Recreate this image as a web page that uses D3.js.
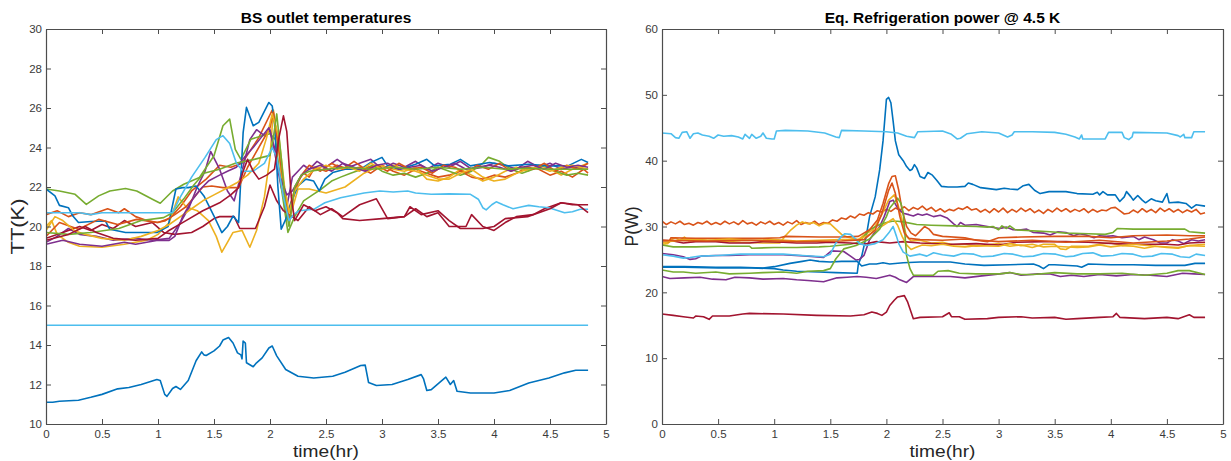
<!DOCTYPE html>
<html><head><meta charset="utf-8">
<script src="https://cdn.jsdelivr.net/npm/d3@7"></script>
<style>
body{margin:0;background:#fff;}
svg{display:block;font-family:"Liberation Sans",Arial,sans-serif;}
</style></head>
<body><svg id="c" width="1231" height="461"></svg>
<script>
// ---------- DATA (time in hr, value) ----------
const xTicks = [0,0.5,1,1.5,2,2.5,3,3.5,4,4.5,5];
const tempTicks = [10,12,14,16,18,20,22,24,26,28,30];
const powerTicks = [0,10,20,30,40,50,60];
const matlabColors = ["#0072BD","#D95319","#EDB120","#7E2F8E","#77AC30","#4DBEEE","#A2142F"];

// Left chart: BS outlet temperatures (K)
const tBlueLow = [[0,11.1],[0.06,11.1],[0.12,11.15],[0.29,11.2],[0.4,11.35],[0.5,11.5],[0.64,11.78],[0.74,11.85],[0.85,12.0],[0.99,12.25],[1.02,12.2],[1.06,11.5],[1.08,11.4],[1.13,11.8],[1.16,11.9],[1.2,11.75],[1.27,12.2],[1.34,13.2],[1.39,13.65],[1.41,13.5],[1.43,13.47],[1.5,13.7],[1.55,13.95],[1.58,14.25],[1.63,14.38],[1.67,14.1],[1.71,13.6],[1.74,13.5],[1.75,13.3],[1.76,14.2],[1.78,14.1],[1.79,13.1],[1.85,12.9],[1.88,13.1],[1.93,13.35],[1.99,13.85],[2.02,13.95],[2.06,13.45],[2.14,12.76],[2.25,12.42],[2.39,12.33],[2.56,12.42],[2.67,12.62],[2.81,12.96],[2.85,12.98],[2.88,12.1],[2.95,11.95],[3.09,12.0],[3.23,12.25],[3.35,12.5],[3.37,12.3],[3.4,11.7],[3.44,11.74],[3.51,12.08],[3.57,12.37],[3.61,12.0],[3.64,12.2],[3.67,11.66],[3.79,11.57],[4.0,11.57],[4.14,11.7],[4.31,12.08],[4.49,12.33],[4.63,12.59],[4.73,12.72],[4.84,12.72]];
const tLightFlat = [[0,15],[4.84,15]];
const tLightMid = [[0,20.7],[0.3,20.7],[0.4,20.6],[0.5,20.7],[1.13,20.7],[1.2,21.5],[1.3,22.5],[1.42,23.5],[1.52,24.4],[1.58,24.6],[1.64,24.2],[1.7,23.2],[1.76,22.8],[1.85,22.8],[1.95,23.2],[2.02,24.0],[2.06,23.5],[2.12,21.5],[2.17,20.3],[2.21,20.6],[2.26,20.8],[2.39,20.87],[2.49,21.2],[2.63,21.46],[2.84,21.7],[2.98,21.8],[3.1,21.75],[3.23,21.8],[3.3,21.7],[3.44,21.63],[3.6,21.65],[3.79,21.63],[3.86,21.38],[3.9,20.95],[3.93,20.84],[3.98,21.1],[4.02,21.25],[4.08,21.1],[4.17,20.9],[4.25,21.0],[4.31,21.07],[4.4,21.0],[4.49,20.95],[4.63,20.7],[4.7,20.75],[4.77,20.87],[4.84,20.87]];
const tBlueHigh = [[0,21.9],[0.08,21.55],[0.12,21.07],[0.2,20.95],[0.24,20.53],[0.29,20.2],[0.4,20.25],[0.53,20.28],[0.57,19.86],[0.71,19.7],[0.99,19.7],[1.09,20.0],[1.16,21.9],[1.22,21.97],[1.27,21.97],[1.34,22.05],[1.41,21.55],[1.5,20.53],[1.57,19.69],[1.62,20.0],[1.67,20.53],[1.72,20.2],[1.76,24.75],[1.79,26.03],[1.85,25.1],[1.9,25.27],[1.99,26.28],[2.02,26.1],[2.04,25.3],[2.07,22.05],[2.1,19.86],[2.14,20.36],[2.2,21.38],[2.25,22.05],[2.32,22.4],[2.39,22.3],[2.44,21.8],[2.49,22.4],[2.56,22.73],[2.67,22.9],[2.81,22.9],[2.9,23.24],[3.0,23.5],[3.05,23.07],[3.16,22.9],[3.3,23.15],[3.4,23.4],[3.47,23.07],[3.61,23.15],[3.7,23.4],[3.79,23.07],[3.96,23.24],[4.13,23.07],[4.31,23.15],[4.48,23.07],[4.66,23.07],[4.78,23.4],[4.84,23.24]];
const tOrange1 = [[0,20.6],[0.1,20.8],[0.2,20.5],[0.3,20.7],[0.4,20.6],[0.55,20.9],[0.65,20.7],[0.7,20.9],[0.8,20.5],[0.9,20.3],[1.0,20.2],[1.1,20.4],[1.2,21.0],[1.3,21.8],[1.43,22.4],[1.55,23.1],[1.65,23.0],[1.75,23.2],[1.9,24.5],[2.02,25.9],[2.08,24.0],[2.13,21.0],[2.15,20.5],[2.2,21.5],[2.25,22.3],[2.3,22.7],[2.35,22.5],[2.4,23.0],[2.5,22.8],[2.6,23.1],[2.7,22.9],[2.8,23.0],[2.9,22.7],[3.0,23.1],[3.1,22.8],[3.2,22.6],[3.3,22.9],[3.4,22.7],[3.5,22.5],[3.6,22.6],[3.7,22.8],[3.8,22.5],[3.9,22.4],[4.0,22.6],[4.1,22.5],[4.2,22.7],[4.3,23.0],[4.4,22.9],[4.5,22.6],[4.6,22.8],[4.7,22.5],[4.8,22.9],[4.84,22.7]];
const tOrange2 = [[0,19.5],[0.12,20.2],[0.29,19.86],[0.47,20.36],[0.64,20.1],[0.81,20.36],[0.99,20.2],[1.06,20.28],[1.15,20.6],[1.25,21.0],[1.4,22.0],[1.48,22.05],[1.58,21.97],[1.72,21.97],[1.8,23.0],[2.0,25.0],[2.03,25.8],[2.1,23.0],[2.17,20.3],[2.22,21.8],[2.28,22.6],[2.35,23.1],[2.45,22.8],[2.55,23.2],[2.65,22.9],[2.75,23.3],[2.85,22.9],[2.95,23.1],[3.05,22.8],[3.15,23.2],[3.25,22.9],[3.35,23.0],[3.45,22.7],[3.55,23.1],[3.65,23.0],[3.75,22.7],[3.85,23.1],[3.95,22.9],[4.05,23.2],[4.15,22.8],[4.25,23.0],[4.35,22.9],[4.45,23.2],[4.55,22.8],[4.65,23.1],[4.75,22.9],[4.84,23.2]];
const tYellow1 = [[0,20.0],[0.05,20.3],[0.1,19.6],[0.2,19.2],[0.3,19.0],[0.5,18.95],[0.7,19.1],[0.9,19.3],[1.0,19.6],[1.1,20.2],[1.18,21.5],[1.25,21.0],[1.35,20.8],[1.45,20.3],[1.52,19.5],[1.57,18.7],[1.62,19.2],[1.67,19.7],[1.75,19.8],[1.82,18.95],[1.88,19.8],[1.95,21.5],[2.0,23.5],[2.03,25.9],[2.08,24.0],[2.12,21.5],[2.17,20.3],[2.25,21.9],[2.35,21.9],[2.5,21.7],[2.67,22.0],[2.84,22.7],[2.98,23.1],[3.1,22.9],[3.2,22.8],[3.3,23.0],[3.4,22.4],[3.5,22.3],[3.6,22.5],[3.7,22.9],[3.8,22.6],[3.9,22.3],[4.0,22.5],[4.1,22.8],[4.2,23.0],[4.3,22.8],[4.4,23.1],[4.5,22.9],[4.6,22.6],[4.7,22.9],[4.84,23.2]];
const tYellow2 = [[0,19.8],[0.08,20.5],[0.15,20.3],[0.25,19.8],[0.35,19.6],[0.5,19.4],[0.7,19.3],[0.85,19.5],[1.0,19.8],[1.1,20.1],[1.2,20.5],[1.3,20.9],[1.4,21.3],[1.5,21.6],[1.6,21.9],[1.7,22.2],[1.8,22.6],[1.9,23.2],[1.97,24.5],[2.02,25.7],[2.08,24.5],[2.13,22.0],[2.17,20.7],[2.22,21.8],[2.3,22.4],[2.4,22.9],[2.5,23.1],[2.6,22.9],[2.7,23.0],[2.8,22.8],[2.9,23.2],[3.0,22.9],[3.1,23.1],[3.2,22.9],[3.3,22.8],[3.4,22.6],[3.5,22.4],[3.6,22.4],[3.7,22.7],[3.8,22.9],[3.9,22.5],[4.0,22.3],[4.1,22.4],[4.2,22.7],[4.3,22.9],[4.4,23.0],[4.5,22.8],[4.6,23.0],[4.7,23.1],[4.84,22.9]];
const tPurple1 = [[0,19.2],[0.1,19.5],[0.2,19.9],[0.3,19.6],[0.45,19.5],[0.6,19.3],[0.8,19.4],[0.95,19.3],[1.1,19.4],[1.2,20.2],[1.28,21.0],[1.35,22.0],[1.42,22.8],[1.47,23.8],[1.55,22.9],[1.62,21.8],[1.68,21.3],[1.75,22.8],[1.82,24.4],[1.88,24.9],[1.95,24.6],[2.0,24.9],[2.05,23.5],[2.1,22.0],[2.15,21.0],[2.2,22.5],[2.25,22.8],[2.3,23.1],[2.35,22.9],[2.42,23.3],[2.5,23.0],[2.6,23.4],[2.7,23.0],[2.8,23.2],[2.9,23.4],[3.0,22.9],[3.1,23.2],[3.2,23.0],[3.3,23.3],[3.4,22.9],[3.5,23.2],[3.6,23.0],[3.7,23.3],[3.8,22.9],[3.9,23.0],[4.0,23.2],[4.1,23.1],[4.2,22.9],[4.3,23.3],[4.4,23.0],[4.5,23.2],[4.6,22.9],[4.7,23.0],[4.84,22.9]];
const tPurple2 = [[0,19.1],[0.15,19.3],[0.3,19.1],[0.5,19.0],[0.7,19.2],[0.8,19.1],[1.0,19.3],[1.1,19.3],[1.15,19.5],[1.22,20.5],[1.3,21.3],[1.38,21.9],[1.45,22.3],[1.55,22.6],[1.62,22.8],[1.7,23.0],[1.77,23.5],[1.85,24.0],[1.92,24.5],[1.99,25.0],[2.04,24.0],[2.09,22.5],[2.15,21.6],[2.2,21.8],[2.28,22.6],[2.35,22.9],[2.45,23.1],[2.55,22.8],[2.65,23.2],[2.75,23.0],[2.85,22.8],[2.95,23.1],[3.05,23.2],[3.15,22.9],[3.25,23.0],[3.35,23.1],[3.45,22.8],[3.55,23.0],[3.65,23.2],[3.75,22.9],[3.85,23.0],[3.95,23.1],[4.05,23.0],[4.15,22.8],[4.25,23.0],[4.35,23.1],[4.45,22.9],[4.55,23.2],[4.65,23.0],[4.75,23.1],[4.84,23.0]];
const tGreen1 = [[0,21.9],[0.12,21.8],[0.26,21.63],[0.36,21.12],[0.47,21.55],[0.57,21.8],[0.71,21.92],[0.81,21.8],[0.95,21.38],[1.02,21.18],[1.13,21.8],[1.23,22.14],[1.37,22.48],[1.5,23.58],[1.58,25.1],[1.64,25.44],[1.69,23.91],[1.74,23.4],[1.83,24.42],[1.93,24.6],[2.0,24.7],[2.05,24.4],[2.1,22.0],[2.16,19.7],[2.22,20.5],[2.3,21.3],[2.38,21.6],[2.46,21.9],[2.55,22.3],[2.63,22.5],[2.72,22.7],[2.82,22.9],[2.92,23.1],[3.0,22.8],[3.1,22.6],[3.2,22.7],[3.3,22.5],[3.4,22.7],[3.5,23.0],[3.6,22.8],[3.7,22.6],[3.8,22.8],[3.9,23.2],[3.95,23.5],[4.05,23.3],[4.15,22.9],[4.25,22.7],[4.35,22.9],[4.45,23.1],[4.55,22.8],[4.65,22.6],[4.75,22.7],[4.84,22.6]];
const tGreen2 = [[0,19.7],[0.2,19.6],[0.4,19.7],[0.65,19.9],[0.85,20.3],[1.05,20.45],[1.13,20.7],[1.23,21.4],[1.32,22.1],[1.41,22.7],[1.55,22.9],[1.69,23.2],[1.86,23.4],[2.0,23.6],[2.03,24.5],[2.06,25.7],[2.1,23.5],[2.14,21.0],[2.17,20.0],[2.22,22.0],[2.28,22.6],[2.35,22.8],[2.5,22.9],[2.7,23.0],[2.9,22.9],[3.1,23.0],[3.3,22.9],[3.5,23.0],[3.7,22.9],[3.9,23.0],[4.1,22.9],[4.3,22.95],[4.5,22.9],[4.7,22.9],[4.84,22.9]];
const tRed1 = [[0,19.4],[0.15,19.7],[0.3,20.0],[0.4,19.8],[0.5,20.1],[0.6,19.9],[0.7,20.3],[0.8,20.0],[0.95,20.2],[1.05,19.7],[1.15,19.6],[1.3,19.7],[1.4,20.0],[1.5,20.4],[1.55,20.5],[1.68,20.5],[1.73,19.9],[1.87,19.9],[1.95,21.0],[2.0,22.1],[2.06,21.3],[2.12,20.8],[2.17,20.6],[2.25,20.3],[2.35,21.0],[2.45,20.6],[2.55,20.9],[2.65,20.5],[2.8,21.1],[2.95,21.4],[3.05,20.4],[3.2,20.5],[3.3,20.9],[3.4,20.5],[3.5,20.7],[3.6,20.0],[3.75,20.0],[3.8,20.6],[3.9,20.0],[4.0,19.8],[4.1,20.2],[4.2,20.5],[4.35,20.6],[4.45,20.9],[4.6,21.2],[4.7,21.1],[4.84,21.1]];
const tRed2 = [[0,19.3],[0.2,19.6],[0.35,20.0],[0.45,19.7],[0.6,19.4],[0.8,19.3],[1.0,19.4],[1.09,19.77],[1.25,20.3],[1.4,20.8],[1.55,21.2],[1.65,21.6],[1.72,21.97],[1.76,22.8],[1.8,23.4],[1.85,22.8],[1.9,22.4],[1.97,22.6],[2.04,22.9],[2.08,24.5],[2.12,25.6],[2.15,24.8],[2.19,21.5],[2.22,20.3],[2.3,21.1],[2.4,20.8],[2.5,21.0],[2.6,20.7],[2.65,20.4],[2.8,20.3],[3.0,20.4],[3.2,20.5],[3.25,21.0],[3.35,20.6],[3.5,20.8],[3.6,20.3],[3.7,19.9],[3.9,19.9],[4.0,20.0],[4.1,20.4],[4.3,20.5],[4.5,20.9],[4.6,21.2],[4.75,21.1],[4.84,20.7]];

// Right chart: Eq. refrigeration power (W)
const pLightTop = [[0,44.2],[0.08,44.1],[0.12,43.5],[0.15,43.4],[0.18,44.3],[0.22,44.4],[0.25,43.4],[0.28,44.1],[0.32,44.2],[0.36,43.9],[0.42,43.7],[0.46,43.4],[0.5,43.9],[0.55,43.7],[0.62,43.8],[0.68,43.6],[0.72,43.3],[0.74,44.0],[0.78,43.4],[0.8,44.0],[0.84,43.4],[0.88,43.7],[0.9,44.2],[0.93,43.4],[0.98,43.3],[1.0,43.3],[1.02,44.5],[1.1,44.6],[1.3,44.5],[1.45,44.2],[1.55,43.6],[1.58,43.5],[1.6,44.6],[1.8,44.5],[2.0,44.4],[2.1,44.2],[2.18,43.7],[2.25,43.5],[2.28,44.4],[2.5,44.5],[2.58,44.0],[2.63,43.3],[2.66,43.4],[2.72,44.1],[2.85,44.4],[3.0,44.2],[3.08,43.6],[3.12,43.9],[3.14,44.4],[3.3,44.4],[3.5,44.3],[3.6,44.0],[3.68,43.6],[3.72,43.3],[3.74,43.9],[3.75,43.3],[3.95,43.3],[3.98,44.3],[4.1,44.3],[4.12,43.5],[4.16,43.2],[4.19,43.6],[4.2,44.3],[4.5,44.2],[4.6,43.8],[4.62,43.6],[4.65,44.0],[4.66,43.5],[4.72,43.5],[4.74,44.4],[4.84,44.4]];
const pBluePeak = [[0,23.8],[0.2,23.8],[0.5,23.7],[0.8,23.7],[1.0,23.6],[1.08,23.4],[1.2,23.2],[1.4,23.1],[1.55,23.0],[1.74,22.9],[1.75,24.3],[1.78,25.5],[1.82,28.5],[1.85,31.5],[1.9,34.5],[1.94,38.6],[1.97,43],[2.0,49.3],[2.02,49.6],[2.04,48.8],[2.06,46],[2.08,43.0],[2.11,40.9],[2.15,40.0],[2.18,39.1],[2.21,38.5],[2.23,38.7],[2.25,39.4],[2.27,38.9],[2.3,37.6],[2.34,37.3],[2.37,38.2],[2.41,37.8],[2.45,37.0],[2.49,36.1],[2.55,36.0],[2.63,36.0],[2.7,36.1],[2.73,36.6],[2.77,36.4],[2.84,35.9],[2.98,35.6],[3.05,35.8],[3.1,35.7],[3.17,35.6],[3.22,36.2],[3.27,36.4],[3.32,35.5],[3.37,35.0],[3.45,35.3],[3.6,35.3],[3.7,35.0],[3.84,34.9],[3.88,35.2],[3.9,34.8],[3.93,35.3],[3.97,34.8],[4.04,34.8],[4.08,33.8],[4.12,34.5],[4.14,35.3],[4.18,34.5],[4.2,34.0],[4.24,34.7],[4.28,34.0],[4.31,33.6],[4.36,34.2],[4.4,33.9],[4.46,33.7],[4.5,35.0],[4.52,33.6],[4.6,33.7],[4.67,33.5],[4.72,32.8],[4.76,33.3],[4.84,33.1]];
const pOrangeTop = [[0,30.8],[0.04,30.3],[0.08,30.7],[0.12,30.4],[0.16,30.8],[0.2,30.3],[0.24,30.5],[0.28,30.2],[0.32,30.6],[0.36,30.4],[0.4,30.8],[0.44,30.3],[0.48,30.6],[0.52,30.3],[0.56,30.8],[0.6,30.4],[0.64,30.7],[0.68,30.3],[0.72,30.9],[0.76,30.4],[0.8,30.6],[0.84,30.2],[0.88,30.7],[0.92,30.4],[0.96,30.8],[1.0,30.3],[1.04,30.6],[1.08,30.2],[1.12,30.7],[1.16,30.4],[1.2,30.9],[1.24,30.3],[1.28,30.6],[1.32,30.4],[1.36,30.8],[1.4,30.3],[1.44,30.6],[1.48,30.5],[1.52,31.0],[1.56,30.8],[1.6,31.3],[1.64,31.1],[1.68,31.6],[1.72,31.3],[1.76,31.9],[1.8,31.7],[1.84,32.1],[1.88,31.9],[1.92,32.4],[1.96,32.2],[2.0,32.6],[2.04,32.3],[2.08,32.8],[2.12,32.5],[2.16,33.0],[2.2,32.4],[2.24,32.9],[2.28,32.6],[2.32,33.1],[2.36,32.5],[2.4,32.9],[2.44,32.3],[2.48,32.7],[2.52,32.2],[2.56,32.6],[2.6,32.4],[2.64,32.8],[2.68,32.6],[2.72,33.0],[2.76,32.5],[2.8,32.7],[2.84,32.2],[2.88,32.6],[2.92,32.1],[2.96,32.7],[3.0,32.2],[3.04,32.8],[3.08,32.1],[3.12,32.6],[3.16,32.2],[3.2,32.8],[3.24,32.3],[3.28,32.7],[3.32,32.1],[3.36,32.5],[3.4,32.0],[3.44,32.6],[3.48,32.2],[3.52,32.8],[3.56,32.3],[3.6,32.7],[3.64,32.2],[3.68,32.6],[3.72,32.3],[3.76,32.7],[3.8,32.1],[3.84,32.6],[3.88,32.2],[3.92,32.5],[3.96,32.4],[4.0,32.8],[4.04,32.9],[4.08,32.4],[4.12,31.9],[4.16,32.0],[4.2,32.5],[4.24,32.1],[4.28,32.7],[4.32,32.2],[4.36,32.6],[4.4,32.1],[4.44,32.8],[4.48,32.3],[4.52,32.7],[4.56,32.2],[4.6,32.6],[4.64,32.1],[4.68,32.5],[4.72,32.2],[4.76,32.6],[4.8,31.9],[4.84,32.1]];
const pOrangePeak1 = [[0,27.6],[0.06,27.6],[0.08,28.3],[0.3,28.2],[0.6,28.2],[0.9,28.2],[1.05,28.3],[1.1,28.5],[1.4,28.4],[1.6,28.4],[1.75,28.5],[1.85,29.5],[1.92,31],[1.97,33.5],[2.02,36.5],[2.05,37.6],[2.08,37.7],[2.11,35.5],[2.14,32.5],[2.18,30.0],[2.22,29.0],[2.26,28.6],[2.3,29.3],[2.34,30.0],[2.38,29.6],[2.42,28.8],[2.5,28.5],[2.7,28.3],[2.8,27.9],[2.9,27.7],[3.0,28.3],[3.2,28.4],[3.5,28.5],[3.8,28.5],[4.0,28.3],[4.2,28.6],[4.5,28.7],[4.7,28.6],[4.84,28.6]];
const pOrangePeak2 = [[0,27.9],[0.4,27.8],[0.8,27.9],[1.2,27.7],[1.6,27.8],[1.8,28.0],[1.9,29.5],[1.96,32.0],[2.02,35.5],[2.05,36.6],[2.08,35.0],[2.12,31.5],[2.16,29.0],[2.2,28.2],[2.3,28.0],[2.5,27.9],[2.7,28.1],[3.0,27.7],[3.3,27.9],[3.6,27.6],[3.9,27.9],[4.2,27.5],[4.5,27.8],[4.7,28.1],[4.84,28.4]];
const pYellow1 = [[0,27.3],[0.05,27.4],[0.08,28.0],[0.12,28.3],[0.16,27.9],[0.2,28.4],[0.24,27.8],[0.3,28.1],[0.4,27.9],[0.5,27.8],[0.6,27.7],[0.7,27.6],[0.9,27.5],[1.05,27.5],[1.1,28.6],[1.15,29.5],[1.2,30.2],[1.25,30.7],[1.3,30.4],[1.35,30.6],[1.4,30.1],[1.45,30.5],[1.5,30.4],[1.55,29.6],[1.6,28.8],[1.65,28.4],[1.75,28.0],[1.8,28.7],[1.88,29.5],[1.95,31.5],[2.02,34.0],[2.07,34.8],[2.1,33.5],[2.14,31.0],[2.18,28.5],[2.22,27.8],[2.3,27.9],[2.4,27.5],[2.5,27.6],[2.6,27.2],[2.7,27.3],[2.8,27.0],[3.0,27.4],[3.1,27.0],[3.2,27.2],[3.3,26.8],[3.4,27.3],[3.5,27.3],[3.55,26.6],[3.6,26.5],[3.65,27.0],[3.8,27.0],[3.9,27.3],[4.0,27.5],[4.1,27.1],[4.2,27.0],[4.3,26.7],[4.4,27.0],[4.5,26.8],[4.6,26.7],[4.7,27.1],[4.84,27.0]];
const pYellow2 = [[0,27.5],[0.1,27.8],[0.2,28.0],[0.4,27.9],[0.6,28.1],[0.8,27.9],[1.0,28.0],[1.2,27.8],[1.4,27.9],[1.6,28.0],[1.75,28.0],[1.85,28.8],[1.92,29.6],[2.0,30.5],[2.06,31.2],[2.1,30.2],[2.14,28.5],[2.18,27.2],[2.22,26.5],[2.26,26.8],[2.32,27.2],[2.4,27.1],[2.5,27.3],[2.6,27.0],[2.7,26.9],[2.8,27.1],[3.0,27.0],[3.1,27.4],[3.2,27.1],[3.3,27.3],[3.4,26.9],[3.5,27.0],[3.7,26.8],[3.8,26.9],[3.9,27.2],[4.0,26.9],[4.2,27.3],[4.4,27.0],[4.6,26.8],[4.7,27.1],[4.84,27.3]];
const pPurple1 = [[0,25.9],[0.1,25.7],[0.19,25.4],[0.25,25.0],[0.3,25.1],[0.35,25.5],[0.48,25.6],[0.6,25.6],[0.78,25.7],[0.95,25.7],[1.08,25.7],[1.3,25.5],[1.44,25.3],[1.51,26.3],[1.62,26.2],[1.68,25.5],[1.73,24.9],[1.76,25.0],[1.8,25.6],[1.85,28.0],[1.9,29.2],[1.94,30.0],[1.98,31.5],[2.03,33.8],[2.06,34.0],[2.1,32.8],[2.15,32.0],[2.2,31.8],[2.24,31.6],[2.28,31.9],[2.32,31.7],[2.36,31.9],[2.42,31.5],[2.48,31.7],[2.54,31.3],[2.6,30.4],[2.63,30.0],[2.66,30.6],[2.7,30.2],[2.8,30.3],[2.9,30.0],[3.01,29.7],[3.07,29.9],[3.13,29.5],[3.2,29.5],[3.25,29.6],[3.31,29.1],[3.4,29.0],[3.46,28.7],[3.53,29.2],[3.6,29.1],[3.67,28.6],[3.72,28.9],[3.78,28.7],[3.85,28.3],[3.9,28.6],[3.96,28.5],[4.02,28.6],[4.1,28.3],[4.2,28.5],[4.25,28.0],[4.3,28.4],[4.38,28.0],[4.44,27.5],[4.5,27.5],[4.55,28.0],[4.6,27.8],[4.65,27.4],[4.72,28.0],[4.78,27.8],[4.84,28.0]];
const pGreen1 = [[0,27.2],[0.1,26.9],[0.3,26.9],[0.5,27.0],[0.78,27.0],[0.8,26.7],[1.0,26.8],[1.2,26.8],[1.4,26.9],[1.5,27.0],[1.68,27.3],[1.75,27.6],[1.8,28.5],[1.85,29.5],[1.94,30.3],[2.0,30.6],[2.05,30.8],[2.1,30.8],[2.15,30.7],[2.27,30.3],[2.4,30.2],[2.6,30.1],[2.8,30.0],[2.9,29.9],[2.95,30.0],[3.0,29.5],[3.03,30.1],[3.07,29.7],[3.1,30.1],[3.15,29.5],[3.25,29.4],[3.35,29.3],[3.46,29.2],[3.6,29.0],[3.8,28.9],[3.95,28.8],[4.02,29.1],[4.06,29.7],[4.2,29.6],[4.4,29.6],[4.66,29.6],[4.7,29.2],[4.84,29.0]];
const pLightBlue2 = [[0,25.7],[0.1,25.5],[0.19,25.2],[0.25,25.3],[0.34,25.5],[0.5,25.6],[0.7,25.8],[0.9,25.8],[1.08,25.8],[1.25,25.6],[1.44,25.4],[1.5,25.8],[1.55,27.5],[1.6,28.5],[1.63,28.9],[1.68,28.8],[1.72,28.2],[1.76,27.4],[1.82,27.1],[1.9,27.4],[1.97,28.0],[2.02,29.0],[2.06,30.0],[2.09,28.5],[2.11,27.4],[2.15,26.1],[2.21,25.5],[2.3,25.8],[2.36,25.5],[2.42,26.0],[2.5,25.7],[2.6,25.5],[2.68,25.9],[2.78,25.8],[2.85,25.4],[2.95,25.5],[3.05,25.9],[3.13,25.8],[3.22,25.4],[3.31,25.5],[3.4,25.9],[3.51,25.8],[3.6,25.4],[3.67,25.5],[3.75,25.9],[3.84,26.0],[3.92,25.5],[4.02,25.6],[4.1,25.9],[4.2,25.8],[4.28,25.4],[4.37,25.5],[4.45,25.9],[4.55,25.8],[4.62,25.4],[4.7,25.3],[4.76,25.8],[4.84,25.6]];
const pBlue2 = [[0,23.9],[0.2,23.9],[0.48,23.8],[0.7,23.8],[0.9,23.7],[1.0,23.9],[1.14,24.4],[1.25,24.7],[1.32,24.9],[1.4,24.7],[1.5,24.6],[1.6,24.7],[1.74,24.7],[1.78,24.0],[1.85,24.3],[1.91,24.3],[1.97,24.5],[2.03,24.3],[2.15,24.5],[2.3,24.6],[2.57,24.6],[2.7,24.3],[2.87,24.1],[3.1,24.2],[3.31,24.3],[3.36,24.0],[3.4,23.6],[3.45,24.2],[3.5,24.2],[3.7,24.0],[3.74,23.8],[3.8,24.3],[4.0,24.2],[4.2,24.2],[4.4,24.1],[4.66,24.1],[4.75,24.4],[4.84,24.4]];
const pGreen2 = [[0,23.4],[0.1,23.1],[0.19,23.1],[0.3,22.9],[0.48,23.1],[0.6,22.8],[0.78,22.9],[0.9,23.0],[1.08,23.1],[1.2,22.9],[1.3,23.2],[1.44,23.3],[1.5,23.6],[1.55,25.1],[1.62,26.6],[1.73,27.1],[1.85,28.1],[1.94,29.6],[2.0,31.5],[2.03,32.8],[2.1,34.3],[2.13,33.5],[2.15,32.1],[2.18,25.6],[2.21,23.6],[2.24,22.6],[2.35,22.6],[2.42,22.6],[2.46,23.2],[2.55,23.3],[2.65,22.9],[2.8,22.8],[3.01,22.8],[3.1,23.0],[3.2,22.7],[3.31,22.7],[3.5,23.0],[3.7,22.8],[3.9,22.8],[4.1,22.9],[4.3,22.6],[4.5,22.9],[4.6,23.3],[4.7,23.3],[4.84,22.7]];
const pPurple2 = [[0,22.4],[0.07,22.1],[0.2,22.2],[0.34,22.3],[0.45,22.0],[0.57,21.9],[0.65,22.3],[0.78,22.2],[0.9,22.0],[1.08,22.1],[1.2,21.9],[1.3,21.8],[1.44,21.6],[1.5,21.9],[1.56,22.2],[1.65,22.3],[1.74,22.4],[1.82,22.3],[1.91,22.1],[2.03,22.6],[2.08,22.3],[2.12,21.9],[2.18,21.5],[2.24,22.4],[2.4,22.4],[2.57,22.4],[2.7,22.2],[2.85,22.5],[3.01,22.8],[3.1,23.0],[3.2,22.6],[3.35,22.8],[3.46,22.8],[3.55,22.4],[3.65,22.6],[3.76,22.4],[3.9,22.7],[4.05,22.5],[4.2,22.7],[4.35,22.6],[4.5,22.4],[4.64,22.9],[4.74,22.8],[4.84,22.7]];
const pRed1 = [[0,27.9],[0.1,27.8],[0.19,27.5],[0.3,27.7],[0.48,27.7],[0.6,27.5],[0.78,27.5],[0.9,27.7],[1.08,27.6],[1.2,27.5],[1.38,27.5],[1.5,27.6],[1.68,27.5],[1.8,27.3],[1.91,27.7],[2.03,27.5],[2.15,27.7],[2.3,27.5],[2.57,27.3],[2.8,27.4],[3.0,27.2],[3.16,27.6],[3.4,27.7],[3.6,27.7],[3.8,27.6],[4.04,27.4],[4.2,27.3],[4.49,27.3],[4.6,27.2],[4.7,27.5],[4.84,27.6]];
const pRed2 = [[0,16.7],[0.1,16.5],[0.19,16.3],[0.28,16.1],[0.3,16.4],[0.37,16.3],[0.42,15.9],[0.45,16.4],[0.6,16.4],[0.72,16.7],[0.78,16.8],[1.08,16.7],[1.38,16.5],[1.68,16.4],[1.8,16.6],[1.87,17.0],[1.92,16.8],[1.96,16.5],[2.0,17.0],[2.03,18.0],[2.07,18.8],[2.1,19.3],[2.16,19.5],[2.19,18.5],[2.24,16.0],[2.3,16.2],[2.5,16.3],[2.56,16.9],[2.58,16.3],[2.65,16.3],[2.7,15.9],[2.9,16.0],[3.0,16.2],[3.2,16.3],[3.3,16.1],[3.5,16.2],[3.6,15.9],[3.7,16.0],[3.9,16.2],[4.02,16.3],[4.05,16.8],[4.08,16.2],[4.3,16.0],[4.5,16.2],[4.6,16.0],[4.7,16.6],[4.74,16.2],[4.84,16.2]];

const leftSeries = [
  {data:tBlueLow, c:0},{data:tOrange1, c:1},{data:tYellow1, c:2},{data:tPurple1, c:3},
  {data:tGreen1, c:4},{data:tLightFlat, c:5},{data:tRed1, c:6},{data:tBlueHigh, c:0},
  {data:tOrange2, c:1},{data:tYellow2, c:2},{data:tPurple2, c:3},{data:tGreen2, c:4},
  {data:tLightMid, c:5},{data:tRed2, c:6}
];
const rightSeries = [
  {data:pBluePeak, c:0},{data:pOrangeTop, c:1},{data:pYellow1, c:2},{data:pPurple1, c:3},
  {data:pGreen1, c:4},{data:pLightTop, c:5},{data:pRed1, c:6},{data:pBlue2, c:0},
  {data:pOrangePeak1, c:1},{data:pYellow2, c:2},{data:pPurple2, c:3},{data:pGreen2, c:4},
  {data:pLightBlue2, c:5},{data:pRed2, c:6},{data:pOrangePeak2, c:1}
];

// ---------- DRAW ----------
const svg = d3.select("#c");

function panel(o){
  const x = d3.scaleLinear().domain([0,5]).range([o.x0,o.x1]);
  const y = d3.scaleLinear().domain(o.ydom).range([o.y1,o.y0]);
  const g = svg.append("g");
  const clipId = "clip"+o.id;
  svg.append("clipPath").attr("id",clipId).append("rect")
    .attr("x",o.x0).attr("y",o.y0).attr("width",o.x1-o.x0).attr("height",o.y1-o.y0);
  const line = d3.line().x(d=>x(d[0])).y(d=>y(d[1]));
  g.append("g").attr("clip-path","url(#"+clipId+")")
    .selectAll("path").data(o.series).join("path")
    .attr("d",d=>line(d.data)).attr("fill","none")
    .attr("stroke",d=>matlabColors[d.c]).attr("stroke-width",1.6)
    .attr("stroke-linejoin","round");
  const axCol = "#4d4d4d";
  const fmt = d=>String(d);
  const ab = g.append("g").attr("transform",`translate(0,${o.y1})`)
    .call(d3.axisBottom(x).tickValues(xTicks).tickFormat(fmt).tickSizeInner(-5).tickSizeOuter(0).tickPadding(6));
  const at = g.append("g").attr("transform",`translate(0,${o.y0})`)
    .call(d3.axisTop(x).tickValues(xTicks).tickFormat("").tickSizeInner(-5).tickSizeOuter(0));
  const al = g.append("g").attr("transform",`translate(${o.x0},0)`)
    .call(d3.axisLeft(y).tickValues(o.yticks).tickFormat(fmt).tickSizeInner(-5).tickSizeOuter(0).tickPadding(4));
  const ar = g.append("g").attr("transform",`translate(${o.x1},0)`)
    .call(d3.axisRight(y).tickValues(o.yticks).tickFormat("").tickSizeInner(-5).tickSizeOuter(0));
  [ab,at,al,ar].forEach(a=>{
    a.select(".domain").attr("stroke",axCol).attr("stroke-width",1.2);
    a.selectAll(".tick line").attr("stroke",axCol);
    a.selectAll("text").attr("fill","#3a3a3a").style("font-size","11.5px")
      .style("font-family","'Liberation Sans',Arial,sans-serif");
  });
  g.append("text").attr("x",(o.x0+o.x1)/2).attr("y",23).attr("text-anchor","middle")
    .style("font-weight","bold").style("font-size","15.5px").attr("fill","#000").text(o.title);
  g.append("text").attr("x",(o.x0+o.x1)/2).attr("y",457).attr("text-anchor","middle")
    .attr("textLength",66).attr("lengthAdjust","spacingAndGlyphs")
    .style("font-size","17px").attr("fill","#262626").text("time(hr)");
  g.append("text").attr("transform",`translate(${o.ylx},${(o.y0+o.y1)/2}) rotate(-90)`)
    .attr("text-anchor","middle").attr("textLength",o.ylen).attr("lengthAdjust","spacingAndGlyphs")
    .style("font-size","18px").attr("fill","#262626").text(o.ylabel);
}

panel({id:1,x0:46,x1:606,y0:29,y1:424,ydom:[10,30],yticks:tempTicks,series:leftSeries,
  title:"BS outlet temperatures",ylabel:"TT(K)",ylx:24,ylen:56});
panel({id:2,x0:662,x1:1223,y0:29,y1:424,ydom:[0,60],yticks:powerTicks,series:rightSeries,
  title:"Eq. Refrigeration power @ 4.5 K",ylabel:"P(W)",ylx:638,ylen:40});
</script>
</body></html>
